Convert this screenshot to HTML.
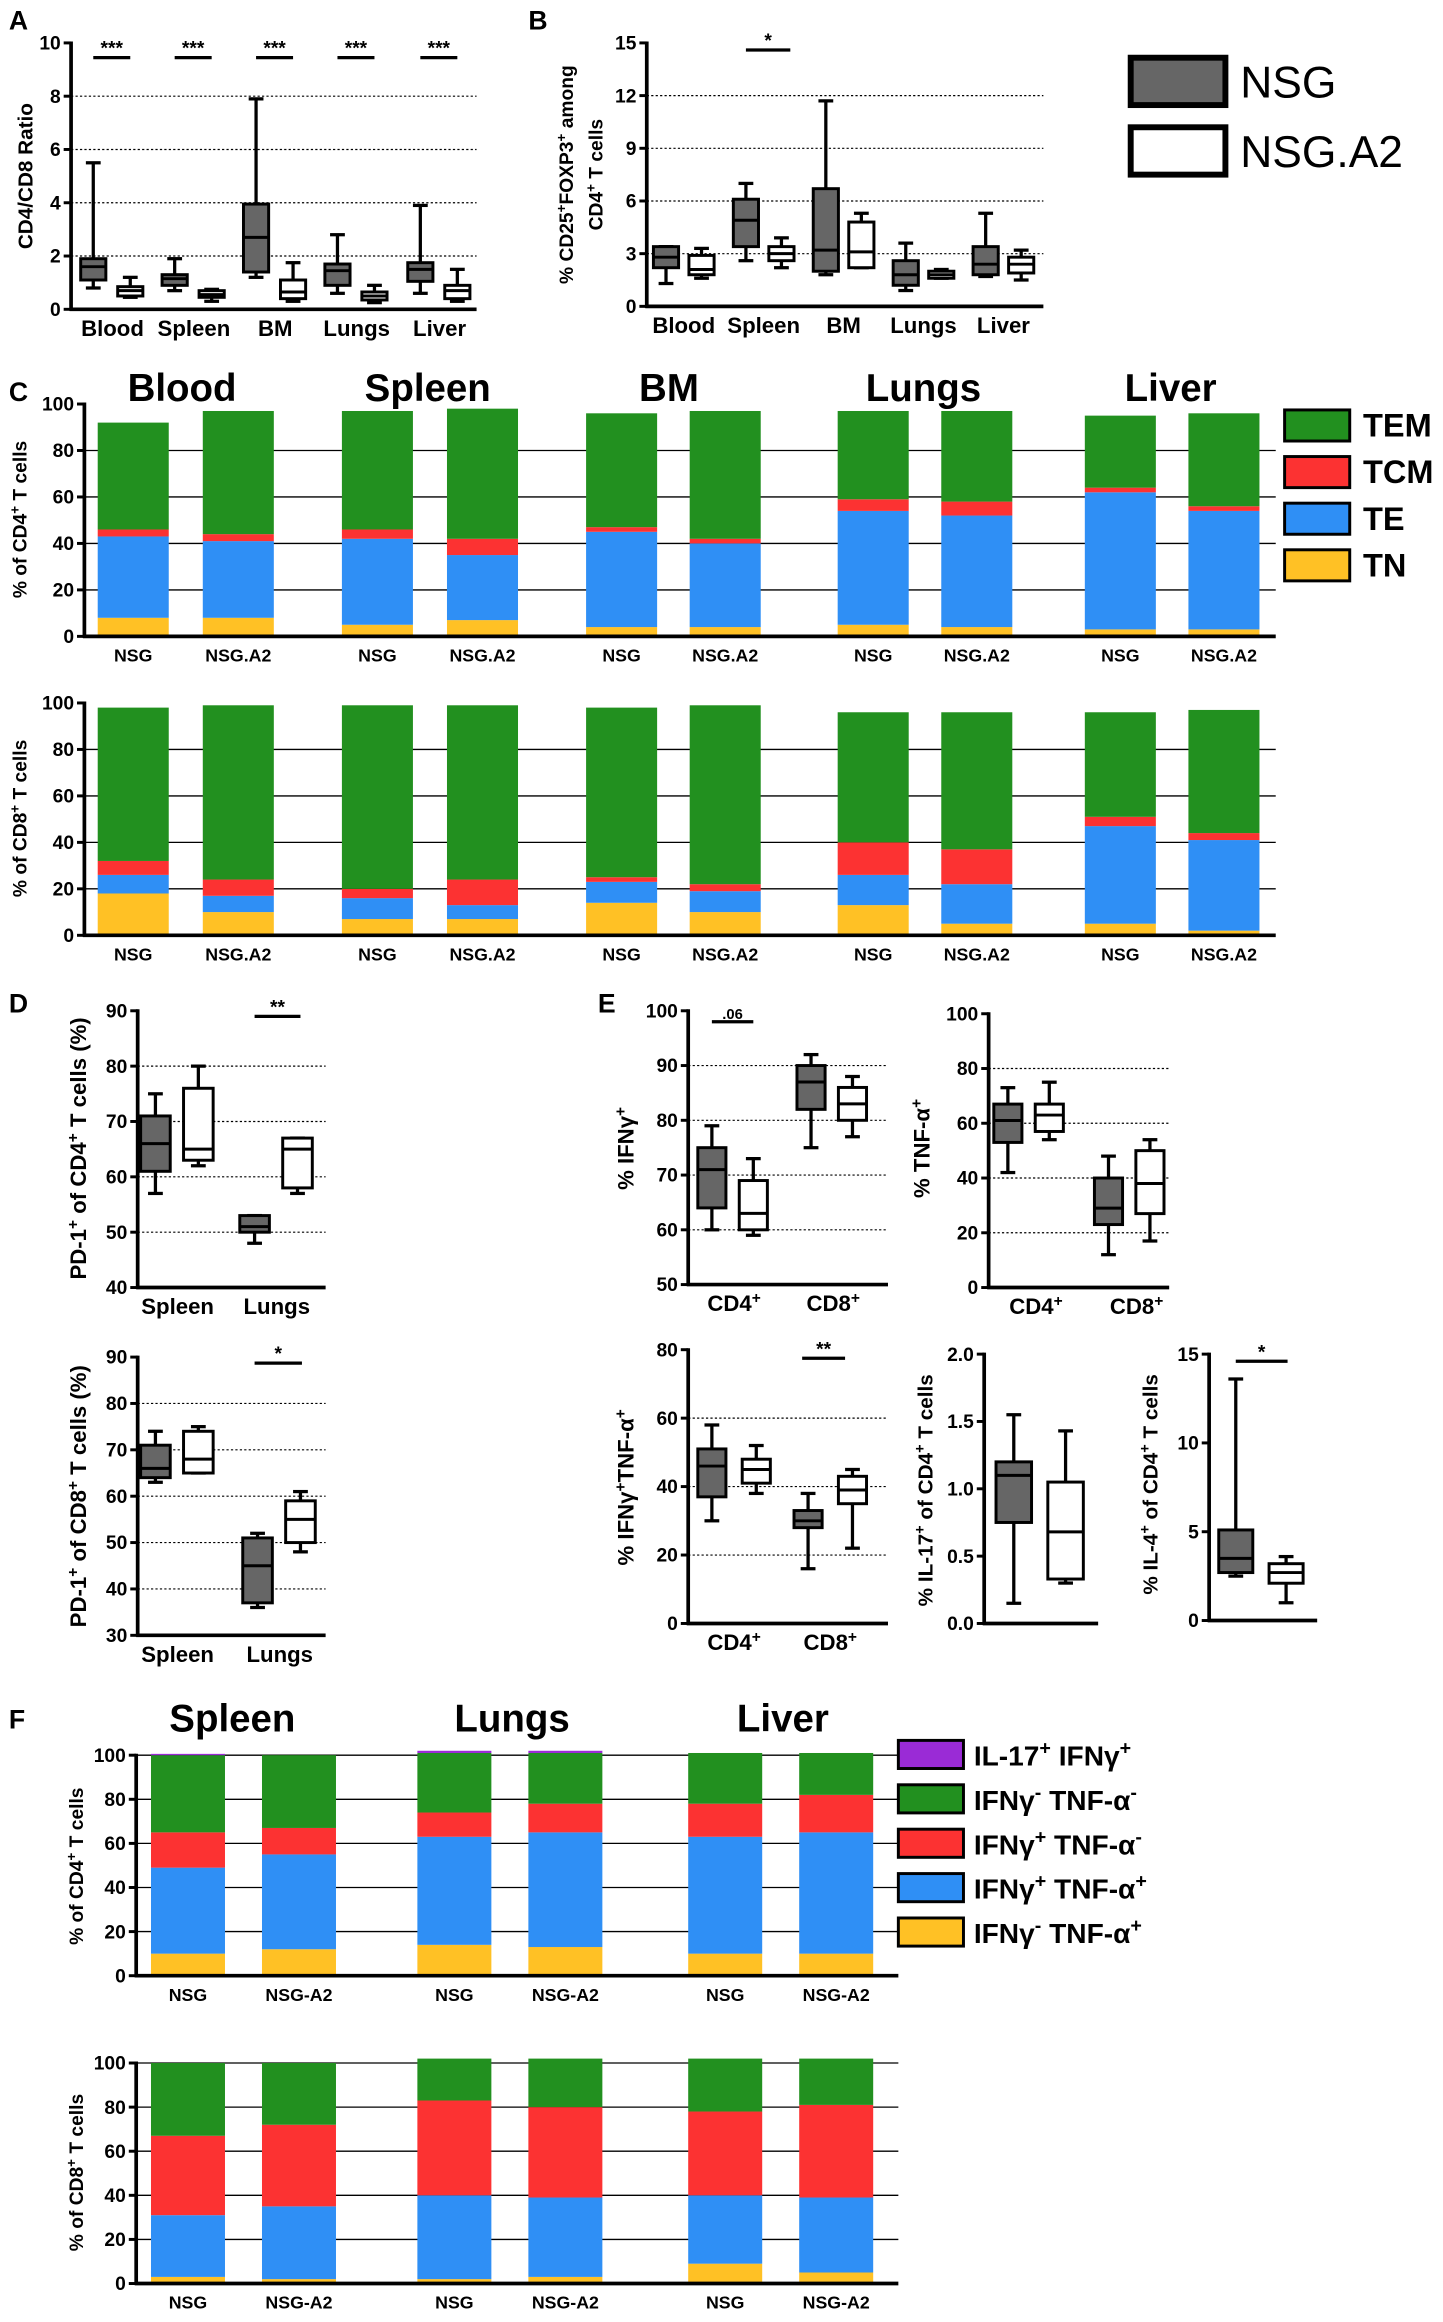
<!DOCTYPE html>
<html><head><meta charset="utf-8"><style>
html,body{margin:0;padding:0;background:#fff}
svg{display:block;font-family:"Liberation Sans",Arial,sans-serif;font-weight:bold}
</style></head><body>
<svg id="fig" width="1443" height="2322" viewBox="0 0 975 1569" xmlns="http://www.w3.org/2000/svg"></svg>
<script>
// ---------- DATA ----------
const aCats=['Blood','Spleen','BM','Lungs','Liver'];
const aTicks=[0,2,4,6,8,10];
const aNSG=[[0.8,1.1,1.6,1.9,5.5],[0.7,0.9,1.15,1.3,1.9],[1.2,1.4,2.7,3.95,7.9],[0.6,0.9,1.45,1.7,2.8],[0.6,1.05,1.5,1.75,3.9]];
const aA2=[[0.45,0.5,0.7,0.85,1.2],[0.3,0.45,0.55,0.7,0.75],[0.3,0.4,0.65,1.1,1.75],[0.25,0.35,0.5,0.65,0.9],[0.3,0.4,0.7,0.9,1.5]];
const bTicks=[0,3,6,9,12,15];
const bNSG=[[1.3,2.2,2.8,3.4,3.4],[2.6,3.4,4.9,6.1,7.0],[1.8,2.0,3.2,6.7,11.7],[0.9,1.2,1.8,2.6,3.6],[1.7,1.8,2.4,3.4,5.3]];
const bA2=[[1.6,1.8,2.1,2.9,3.3],[2.2,2.6,3.0,3.4,3.9],[2.2,2.2,3.1,4.8,5.3],[1.6,1.6,1.8,2.0,2.1],[1.5,1.9,2.4,2.8,3.2]];
const cTicks=[0,20,40,60,80,100];
const cBarLabels=['NSG','NSG.A2','NSG','NSG.A2','NSG','NSG.A2','NSG','NSG.A2','NSG','NSG.A2'];
const c4TN=[8,8,5,7,4,4,5,4,3,3];
const c4TE=[35,33,37,28,41,36,49,48,59,51];
const c4TCM=[3,3,4,7,2,2,5,6,2,2];
const c4TEM=[46,53,51,56,49,55,38,39,31,40];
const c8TN=[18,10,7,7,14,10,13,5,5,2];
const c8TE=[8,7,9,6,9,9,13,17,42,39];
const c8TCM=[6,7,4,11,2,3,14,15,4,3];
const c8TEM=[66,75,79,75,73,77,56,59,45,53];
const dCats=['Spleen','Lungs'];
const d4Ticks=[40,50,60,70,80,90];
const d4NSG=[[57,61,66,71,75],[48,50,51,53,53]];
const d4A2=[[62,63,65,76,80],[57,58,65,67,67]];
const d8Ticks=[30,40,50,60,70,80,90];
const d8NSG=[[63,64,66,71,74],[36,37,45,51,52]];
const d8A2=[[65,65,68,74,75],[48,50,55,59,61]];
const eCats=['CD4+','CD8+'];
const eIfnTicks=[50,60,70,80,90,100];
const eIfnNSG=[[60,64,71,75,79],[75,82,87,90,92]];
const eIfnA2=[[59,60,63,69,73],[77,80,83,86,88]];
const eTnfTicks=[0,20,40,60,80,100];
const eTnfNSG=[[42,53,61,67,73],[12,23,29,40,48]];
const eTnfA2=[[54,57,63,67,75],[17,27,38,50,54]];
const eDblTicks=[0,20,40,60,80];
const eDblNSG=[[30,37,46,51,58],[16,28,30,33,38]];
const eDblA2=[[38,41,45,48,52],[22,35,39,43,45]];
const eIl17Ticks=[0.0,0.5,1.0,1.5,2.0];
const eIl17=[[0.15,0.75,1.1,1.2,1.55],[0.3,0.33,0.68,1.05,1.43]];
const eIl4Ticks=[0,5,10,15];
const eIl4=[[2.5,2.7,3.5,5.1,13.6],[1.0,2.1,2.7,3.2,3.6]];
const fBarLabels=['NSG','NSG-A2','NSG','NSG-A2','NSG','NSG-A2'];
const f4Y=[10,12,14,13,10,10];
const f4B=[39,43,49,52,53,55];
const f4R=[16,12,11,13,15,17];
const f4G=[35,33,27,23,23,19];
const f4P=[0.6,0,1,1,0,0];
const f8Y=[3,2,2,3,9,5];
const f8B=[28,33,38,36,31,34];
const f8R=[36,37,43,41,38,42];
const f8G=[33,28,19,22,24,21];
const f8P=[0,0,0,0,0,0];

// ---------- HELPERS ----------
const svg=document.getElementById('fig');
const NS='http://www.w3.org/2000/svg';
function mk(tag,attrs,parent){const e=document.createElementNS(NS,tag);for(const k in attrs)e.setAttribute(k,attrs[k]);(parent||svg).appendChild(e);return e;}
function txt(x,y,s,size,anchor,parent){const t=mk('text',{x:x,y:y,'font-size':size,'text-anchor':anchor||'middle'},parent);t.innerHTML=s;return t;}
function scale(v0,v1,p0,p1){return v=>p0+(v-v0)*(p1-p0)/(v1-v0);}

function axes(g,ax,yTop,yBot,xEnd,ticks,grid,dotted,fmt){
  const y=scale(ticks[0],ticks[ticks.length-1],yBot,yTop);
  ticks.forEach((t,i)=>{
    if(grid&&i>0&&i<ticks.length-1){const l=mk('line',{x1:ax,x2:xEnd,y1:y(t),y2:y(t),stroke:'#000','stroke-width':0.8,'stroke-dasharray':'1.5,1.5'},g);
      
      }
    const tk=mk('line',{x1:ax-5,x2:ax,y1:y(t),y2:y(t),stroke:'#000','stroke-width':2},g);
    
    
    const lb=txt(ax-7,y(t)+4.5,fmt?fmt(t):t,13,'end',g);
    
    
  });
  const ya=mk('line',{x1:ax,x2:ax,y1:yTop-1,y2:yBot+1,stroke:'#000','stroke-width':2.5},g);
  
  
  const xa=mk('line',{x1:ax-1,x2:xEnd,y1:yBot,y2:yBot,stroke:'#000','stroke-width':2.5},g);
  
  
  return y;
}
function box(g,cx,w,d,y,fill,name){
  const b=mk('g',{},g);
  
  
  mk('line',{x1:cx,x2:cx,y1:y(d[0]),y2:y(d[4]),stroke:'#000','stroke-width':2.2},b);
  mk('line',{x1:cx-5,x2:cx+5,y1:y(d[0]),y2:y(d[0]),stroke:'#000','stroke-width':2.2},b);
  mk('line',{x1:cx-5,x2:cx+5,y1:y(d[4]),y2:y(d[4]),stroke:'#000','stroke-width':2.2},b);
  mk('rect',{x:cx-w/2,y:y(d[3]),width:w,height:Math.max(1,y(d[1])-y(d[3])),fill:fill,stroke:'#000','stroke-width':2},b);
  mk('line',{x1:cx-w/2,x2:cx+w/2,y1:y(d[2]),y2:y(d[2]),stroke:'#000','stroke-width':2},b);
}
function sig(g,x1,x2,yy,label,size){
  const l=mk('line',{x1:x1,x2:x2,y1:yy,y2:yy,stroke:'#000','stroke-width':2.2},g);
  
  
  const t=txt((x1+x2)/2,yy-2,label,size||13,'middle',g);
  
  
}
function ylabel(g,x,y,html,size){
  const t=mk('text',{x:0,y:0,'font-size':size||14,'text-anchor':'middle',transform:`translate(${x},${y}) rotate(-90)`},g);
  t.innerHTML=html;
  
  
  return t;
}
function panelLetter(x,y,s){const t=txt(x,y,s,18,'start');}
const SUP=(s)=>`<tspan baseline-shift="super" font-size="70%">${s}</tspan>`;
const GRAY='#666';

function boxPanel(name,L,ticks,nsg,a2,cats,fmt){
  const g=mk('g',{});
  
  
  const y=axes(g,L.ax,L.top,L.bot,L.xEnd,ticks,L.grid,true,fmt);
  cats.forEach((c,i)=>{
    const cx=L.c[i];
    if(nsg) box(g,cx+L.o1,L.w,nsg[i],y,GRAY,'box-nsg-'+c.toLowerCase().replace(/[^a-z0-9]/g,''));
    if(a2) box(g,cx+L.o2,L.w,a2[i],y,'#fff','box-nsga2-'+c.toLowerCase().replace(/[^a-z0-9]/g,''));
    const t=txt(cx,L.bot+18,c.replace('+',SUP('+')),15,'middle',g);
    
    
  });
  return {g,y};
}

// ---------- PANEL A ----------
panelLetter(6,20,'A');
{const L={ax:48,top:29,bot:209,xEnd:322,c:[76,131,186,241,297],o1:-13,o2:12,w:17,grid:true};
 const {g,y}=boxPanel('panel-a',L,aTicks,aNSG,aA2,aCats);
 L.c.forEach(cx=>sig(g,cx-13,cx+12,y(9.45),'***'));
 ylabel(g,22,119,'CD4/CD8 Ratio',14);}

// ---------- PANEL B ----------
panelLetter(357,20,'B');
{const L={ax:437,top:29,bot:207,xEnd:705,c:[462,516,570,624,678],o1:-12,o2:12,w:17,grid:true};
 const {g,y}=boxPanel('panel-b',L,bTicks,bNSG,bA2,aCats);
 sig(g,504,534,y(14.6),'*');
 ylabel(g,387,118,'% CD25'+SUP('+')+'FOXP3'+SUP('+')+' among',13);
 ylabel(g,407,118,'CD4'+SUP('+')+' T cells',13);}

{const g=mk('g',{});
 
 
 const r1=mk('rect',{x:764,y:39,width:64,height:32,fill:GRAY,stroke:'#000','stroke-width':4},g);
 
 
 const r2=mk('rect',{x:764,y:86,width:64,height:32,fill:'#fff',stroke:'#000','stroke-width':4},g);
 
 
 const t1=mk('text',{x:838,y:66,'font-size':30,'font-weight':'normal'},g);t1.textContent='NSG';
 
 
 const t2=mk('text',{x:838,y:113,'font-size':30,'font-weight':'normal'},g);t2.textContent='NSG.A2';
 
 }

// ---------- STACKED ----------
function stacked(name,L,ticks,series,colors,labels){
  const g=mk('g',{});
  
  
  const y=scale(0,100,L.bot,L.top);
  ticks.forEach((t,i)=>{if(i>0&&(L.top100||i<ticks.length-1)){const l=mk('line',{x1:L.ax,x2:L.xEnd,y1:y(t),y2:y(t),stroke:'#000','stroke-width':0.9},g);
    
    }});
  labels.forEach((lab,i)=>{
    let cum=0;
    series.forEach((s,k)=>{
      const v=s[i]; if(v<=0) return;
      const r=mk('rect',{x:L.lefts[i],y:y(cum+v),width:L.w,height:y(cum)-y(cum+v),fill:colors[k].c},g);
      
      
      cum+=v;
    });
    const t=txt(L.lefts[i]+L.w/2,L.bot+17,lab,12,'middle',g);
    
    
  });
  axes(g,L.ax,L.top,L.bot,L.xEnd,ticks,false,false);
  return g;
}
const cColors=[{c:'#ffc125',n:'tn'},{c:'#2f8ff5',n:'te'},{c:'#fc3232',n:'tcm'},{c:'#22901f',n:'tem'}];
const cLefts=[66,137,231,302,396,466,566,636,733,803];
panelLetter(6,271,'C');
{const g=stacked('panel-c-cd4',{ax:57,top:273,bot:430,xEnd:862,lefts:cLefts,w:48},cTicks,[c4TN,c4TE,c4TCM,c4TEM],cColors,cBarLabels);
 ylabel(g,18,351,'% of CD4'+SUP('+')+' T cells',13);
 [['Blood',123],['Spleen',289],['BM',452],['Lungs',624],['Liver',791]].forEach(a=>{const t=txt(a[1],271,a[0],26,'middle',g);
   
   });}
{const g=stacked('panel-c-cd8',{ax:57,top:475,bot:632,xEnd:862,lefts:cLefts,w:48},cTicks,[c8TN,c8TE,c8TCM,c8TEM],cColors,cBarLabels);
 ylabel(g,18,553,'% of CD8'+SUP('+')+' T cells',13);}
{const g=mk('g',{});
 
 
 [['TEM','#22901f'],['TCM','#fc3232'],['TE','#2f8ff5'],['TN','#ffc125']].forEach((a,i)=>{
  const r=mk('rect',{x:868,y:277+i*31.5,width:44,height:21,fill:a[1],stroke:'#000','stroke-width':2},g);
  
  
  const t=txt(921,295+i*31.5,a[0],22,'start',g);
  
  });}

// ---------- PANEL D ----------
panelLetter(6,684,'D');
{const L={ax:93,top:683,bot:870,xEnd:220,c:[120,187],o1:-15,o2:14,w:20,grid:true};
 const {g,y}=boxPanel('panel-d-cd4',L,d4Ticks,d4NSG,d4A2,dCats);
 sig(g,172,203,y(89),'**');
 ylabel(g,58,776,'PD-1'+SUP('+')+' of CD4'+SUP('+')+' T cells (%)',15);}
{const L={ax:93,top:917,bot:1105,xEnd:220,c:[120,189],o1:-15,o2:14,w:20,grid:true};
 const {g,y}=boxPanel('panel-d-cd8',L,d8Ticks,d8NSG,d8A2,dCats);
 sig(g,172,204,y(88.7),'*');
 ylabel(g,58,1011,'PD-1'+SUP('+')+' of CD8'+SUP('+')+' T cells (%)',15);}

// ---------- PANEL E ----------
panelLetter(404,684,'E');
{const L={ax:465,top:683,bot:868,xEnd:600,c:[496,563],o1:-15,o2:13,w:19,grid:true};
 const {g,y}=boxPanel('panel-e-ifng',L,eIfnTicks,eIfnNSG,eIfnA2,eCats);
 sig(g,481,509,y(98),'.06',10);
 ylabel(g,428,776,'% IFN&#947;'+SUP('+'),15);}
{const L={ax:668,top:685,bot:870,xEnd:790,c:[700,768],o1:-19,o2:9,w:19,grid:true};
 const {g}=boxPanel('panel-e-tnfa',L,eTnfTicks,eTnfNSG,eTnfA2,eCats);
 ylabel(g,628,776,'% TNF-&#945;'+SUP('+'),15);}
{const L={ax:465,top:912,bot:1097,xEnd:600,c:[496,561],o1:-15,o2:15,w:19,grid:true};
 const {g,y}=boxPanel('panel-e-double',L,eDblTicks,eDblNSG,eDblA2,eCats);
 sig(g,542,571,y(77.5),'**');
 ylabel(g,428,1005,'% IFN&#947;'+SUP('+')+'TNF-&#945;'+SUP('+'),15);}
{const g=mk('g',{});
 
 
 const y=axes(g,665,915,1097,742,eIl17Ticks,false,true,t=>t.toFixed(1));
 box(g,685,24,eIl17[0],y,GRAY,'box-nsg-il17');
 box(g,720,24,eIl17[1],y,'#fff','box-nsga2-il17');
 ylabel(g,630,1007,'% IL-17'+SUP('+')+' of CD4'+SUP('+')+' T cells',14);}
{const g=mk('g',{});
 
 
 const y=axes(g,817,915,1095,890,eIl4Ticks,false,true);
 box(g,835,23,eIl4[0],y,GRAY,'box-nsg-il4');
 box(g,869,23,eIl4[1],y,'#fff','box-nsga2-il4');
 sig(g,835,870,y(14.6),'*');
 ylabel(g,782,1003,'% IL-4'+SUP('+')+' of CD4'+SUP('+')+' T cells',14);}

// ---------- PANEL F ----------
panelLetter(6,1168,'F');
const fColors=[{c:'#ffc125',n:'ifng-neg-tnfa-pos'},{c:'#2f8ff5',n:'ifng-pos-tnfa-pos'},{c:'#fc3232',n:'ifng-pos-tnfa-neg'},{c:'#22901f',n:'ifng-neg-tnfa-neg'},{c:'#9a2bd6',n:'il17-ifng'}];
const fLefts=[102,177,282,357,465,540];
{const g=stacked('panel-f-cd4',{ax:92,top:1186,bot:1335,xEnd:607,lefts:fLefts,w:50,top100:true},cTicks,[f4Y,f4B,f4R,f4G,f4P],fColors,fBarLabels);
 ylabel(g,56,1261,'% of CD4'+SUP('+')+' T cells',13);
 [['Spleen',157],['Lungs',346],['Liver',529]].forEach(a=>{const t=txt(a[1],1170,a[0],26,'middle',g);
   
   });}
{const g=stacked('panel-f-cd8',{ax:92,top:1394,bot:1543,xEnd:607,lefts:fLefts,w:50,top100:true},cTicks,[f8Y,f8B,f8R,f8G,f8P],fColors,fBarLabels);
 ylabel(g,56,1468,'% of CD8'+SUP('+')+' T cells',13);}
{const g=mk('g',{});
 
 
 const items=[['#9a2bd6','IL-17'+SUP('+')+' IFN&#947;'+SUP('+')],['#22901f','IFN&#947;'+SUP('-')+' TNF-&#945;'+SUP('-')],['#fc3232','IFN&#947;'+SUP('+')+' TNF-&#945;'+SUP('-')],['#2f8ff5','IFN&#947;'+SUP('+')+' TNF-&#945;'+SUP('+')],['#ffc125','IFN&#947;'+SUP('-')+' TNF-&#945;'+SUP('+')]];
 items.forEach((a,i)=>{
  const r=mk('rect',{x:607,y:1176+i*30,width:44,height:19,fill:a[0],stroke:'#000','stroke-width':2},g);
  
  
  const t=txt(658,1193+i*30,a[1],19,'start',g);
  
  });}
</script>
</body></html>
